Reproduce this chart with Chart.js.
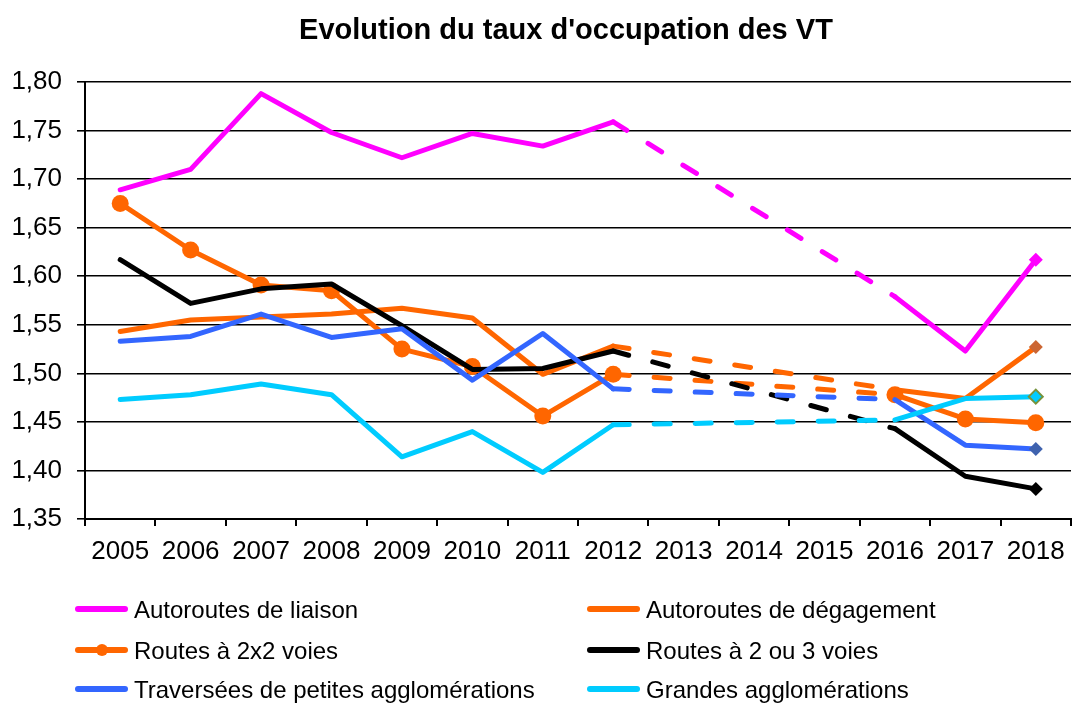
<!DOCTYPE html>
<html>
<head>
<meta charset="utf-8">
<script src="https://cdn.jsdelivr.net/npm/chart.js@4.4.1/dist/chart.umd.min.js"></script>
<style>
  html, body { margin: 0; padding: 0; overflow: hidden; background: #fff; width: 1076px; height: 705px; }
  #wrap { position: relative; width: 1080px; height: 705px; }
  #chart { position: absolute; left: 0; top: 0; }
  #title { position: absolute; left: 0; top: 12px; width: 1132px; text-align: center;
           font: bold 29px "Liberation Sans", Arial, sans-serif; line-height: 34px; color: #000; white-space: nowrap; }
  .lg { position: absolute; height: 28px; font: 24px "Liberation Sans", Arial, sans-serif; line-height: 28px; color: #000; white-space: nowrap; }
  .lg .smp { position: absolute; left: 0; top: 10px; width: 53px; height: 6px; border-radius: 3px; }
  .lg .dot { position: absolute; left: 21px; top: 7px; width: 12px; height: 12px; border-radius: 6px; }
  .lg .txt { position: absolute; left: 59px; top: 0; }
</style>
</head>
<body>
<div id="wrap">
  <canvas id="chart" width="1080" height="705"></canvas>
  <div id="title">Evolution du taux d'occupation des VT</div>
  <div id="legend"></div>
</div>
<script>
// ---- Data ----
const years = ['2005','2006','2007','2008','2009','2010','2011','2012','2013','2014','2015','2016','2017','2018'];
const chartTitle = "Evolution du taux d'occupation des VT";
const seriesNames = [
  'Autoroutes de liaison',
  'Autoroutes de dégagement',
  'Routes à 2x2 voies',
  'Routes à 2 ou 3 voies',
  'Traversées de petites agglomérations',
  'Grandes agglomérations'
];
const autoroutesLiaison    = [1.689, 1.710, 1.788, 1.748, 1.722, 1.747, 1.734, 1.759, null, null, null, 1.579, 1.523, 1.617];
const autoroutesDegagement = [1.543, 1.555, 1.558, 1.561, 1.567, 1.557, 1.499, 1.528, null, null, null, 1.483, 1.474, 1.527];
const routes2x2            = [1.675, 1.627, 1.591, 1.585, 1.525, 1.507, 1.456, 1.499, null, null, null, 1.478, 1.453, 1.449];
const routes2ou3           = [1.617, 1.572, 1.587, 1.592, 1.549, 1.504, 1.505, 1.523, null, null, null, 1.443, 1.394, 1.381];
const traversees           = [1.533, 1.538, 1.561, 1.537, 1.546, 1.493, 1.541, 1.484, null, null, null, 1.473, 1.426, 1.422];
const grandesAgglos        = [1.473, 1.478, 1.489, 1.478, 1.414, 1.440, 1.398, 1.447, null, null, null, 1.452, 1.474, 1.476];
const yMin = 1.35, yMax = 1.80, yStep = 0.05;

// ---- Styles ----
const FONT = '"Liberation Sans", Arial, sans-serif';
const colors = ['#FF00FF', '#FF6600', '#FF6600', '#000000', '#3366FF', '#00CCFF'];
const endFill = ['#FF00FF', '#CC6633', '#FF6600', '#000000', '#3F62AE', '#00CCFF'];
const endBorder = ['#FF00FF', '#CC6633', '#FF6600', '#000000', '#3F62AE', '#77933C'];
const allData = [autoroutesLiaison, autoroutesDegagement, routes2x2, routes2ou3, traversees, grandesAgglos];

const lastIdx = years.length - 1;
const datasets = allData.map((d, i) => {
  const isCircle = i === 2;
  const rad = ctx => isCircle ? (ctx.raw == null ? 0 : 8.5) : (ctx.dataIndex === lastIdx ? 7 : 0);
  return {
    label: seriesNames[i],
    data: d,
    borderColor: colors[i],
    backgroundColor: colors[i],
    borderWidth: 5,
    borderCapStyle: 'round',
    borderJoinStyle: 'round',
    tension: 0,
    fill: false,
    spanGaps: true,
    order: allData.length - i,
    pointStyle: isCircle ? 'circle' : 'rectRot',
    pointRadius: rad,
    pointHoverRadius: rad,
    pointBackgroundColor: endFill[i],
    pointBorderColor: endBorder[i],
    pointBorderWidth: i === 5 ? 2 : 0,
    segment: {
      borderDash: ctx => (ctx.p0.skip || ctx.p1.skip) ? [16, 25] : undefined
    }
  };
});

Chart.defaults.font.family = FONT;
Chart.defaults.color = '#000';

new Chart(document.getElementById('chart'), {
  type: 'line',
  data: { labels: years, datasets },
  options: {
    responsive: false,
    animation: false,
    events: [],
    layout: { padding: { top: 82, right: 1, bottom: 126, left: 0 } },
    plugins: { legend: { display: false }, title: { display: false }, tooltip: { enabled: false } },
    scales: {
      x: {
        type: 'category',
        offset: true,
        grid: { display: true, drawOnChartArea: false, drawTicks: true, tickLength: 7, offset: true, color: '#000', lineWidth: 2 },
        border: { display: true, color: '#000', width: 2 },
        ticks: { font: { size: 26 }, color: '#000', padding: 10, maxRotation: 0, autoSkip: false },
        afterFit: s => { s.height = 60; }
      },
      y: {
        min: yMin, max: yMax,
        grid: { color: '#000', lineWidth: 1.6, tickLength: 8, drawTicks: true },
        border: { display: true, color: '#000', width: 2 },
        ticks: { stepSize: yStep, font: { size: 26 }, color: '#000', padding: 15,
                 callback: v => Number(v).toFixed(2).replace('.', ',') },
        afterFit: s => { s.width = 85; }
      }
    }
  }
});

// ---- HTML legend built from the datasets ----
const legendPos = [
  { left: 75, top: 596 }, { left: 587, top: 596 },
  { left: 75, top: 637 }, { left: 587, top: 637 },
  { left: 75, top: 676 }, { left: 587, top: 676 }
];
const lg = document.getElementById('legend');
datasets.forEach((ds, i) => {
  const item = document.createElement('div');
  item.className = 'lg';
  item.style.left = legendPos[i].left + 'px';
  item.style.top = legendPos[i].top + 'px';
  const smp = document.createElement('div');
  smp.className = 'smp';
  smp.style.background = ds.borderColor;
  item.appendChild(smp);
  if (ds.pointStyle === 'circle') {
    const dot = document.createElement('div');
    dot.className = 'dot';
    dot.style.background = ds.borderColor;
    item.appendChild(dot);
  }
  const txt = document.createElement('span');
  txt.className = 'txt';
  txt.textContent = ds.label;
  item.appendChild(txt);
  lg.appendChild(item);
});
</script>
</body>
</html>
